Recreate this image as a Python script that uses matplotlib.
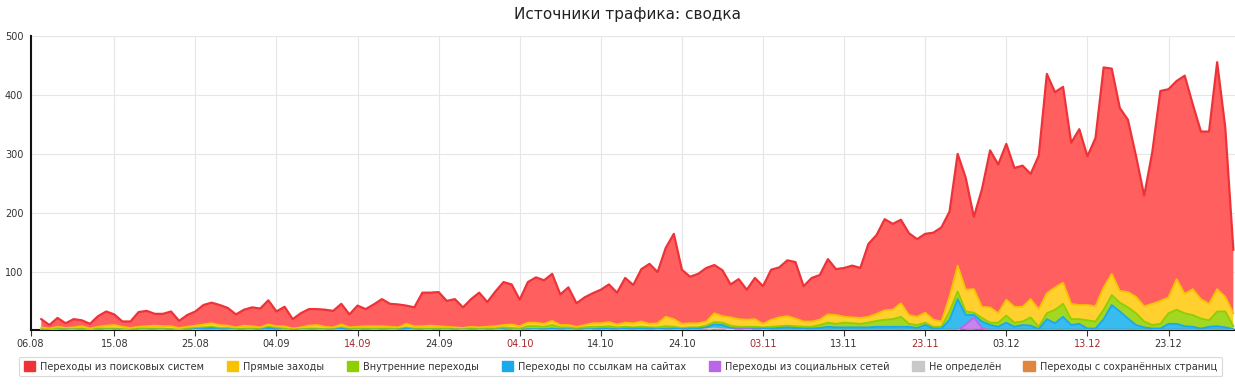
import matplotlib
matplotlib.use('Agg')
import matplotlib.pyplot as plt
from matplotlib.patches import Patch
import numpy as np
import pandas as pd

START = "2014-08-06"

# суточные значения по источникам (06.08 .. 31.12)
search = [14, 6, 15, 8, 14, 10, 8, 18, 24, 18,
          9, 11, 25, 26, 20, 21, 25, 12, 20, 24,
          33, 35, 34, 30, 22, 27, 32, 32, 41, 25,
          33, 16, 24, 28, 27, 29, 28, 35, 22, 36,
          29, 37, 46, 39, 39, 31, 32, 57, 56, 58,
          44, 48, 35, 47, 59, 42, 59, 73, 68, 45,
          69, 77, 74, 80, 52, 64, 40, 47, 51, 57,
          64, 54, 76, 65, 89, 102, 87, 117, 145, 92,
          79, 84, 91, 82, 78, 56, 68, 51, 70, 64,
          85, 85, 95, 96, 60, 74, 76, 94, 78, 83,
          88, 85, 124, 134, 155, 146, 142, 139, 132, 134,
          148, 160, 145, 190, 190, 123, 200, 267, 253, 265,
          236, 240, 213, 261, 373, 332, 333, 274, 299, 253,
          286, 374, 349, 311, 293, 239, 188, 258, 357, 354,
          337, 371, 314, 285, 293, 386, 288, 108]
direct = [3, 2, 3, 2, 3, 4, 2, 3, 5, 6,
          4, 3, 3, 4, 5, 4, 5, 3, 3, 4,
          5, 6, 5, 4, 3, 5, 4, 3, 4, 3,
          4, 2, 3, 5, 6, 4, 3, 5, 3, 3,
          4, 4, 4, 3, 3, 6, 4, 4, 5, 4,
          3, 3, 2, 3, 3, 3, 4, 4, 6, 4,
          6, 6, 5, 7, 4, 4, 3, 4, 6, 6,
          7, 5, 7, 7, 9, 6, 7, 16, 13, 7,
          7, 7, 7, 15, 11, 14, 13, 12, 13, 6,
          12, 15, 16, 13, 9, 9, 9, 14, 15, 10,
          10, 10, 10, 12, 16, 16, 23, 15, 14, 17,
          12, 9, 25, 44, 37, 40, 19, 26, 16, 27,
          27, 25, 31, 30, 34, 38, 36, 26, 24, 26,
          26, 38, 36, 20, 26, 28, 26, 36, 39, 27,
          52, 33, 44, 33, 28, 38, 25, 22]
internal = [1, 1, 2, 1, 1, 2, 1, 2, 2, 2,
            1, 1, 2, 2, 2, 2, 1, 1, 2, 2,
            2, 2, 2, 2, 1, 2, 2, 1, 2, 2,
            2, 1, 1, 2, 2, 1, 1, 2, 1, 2,
            2, 2, 2, 2, 1, 2, 2, 2, 2, 2,
            2, 1, 1, 2, 1, 2, 2, 3, 3, 2,
            5, 5, 4, 6, 3, 3, 2, 3, 4, 3,
            4, 3, 3, 2, 3, 2, 3, 4, 3, 2,
            2, 2, 3, 4, 4, 4, 3, 3, 3, 2,
            3, 3, 3, 3, 3, 3, 5, 7, 6, 8,
            7, 6, 8, 10, 12, 13, 17, 5, 5, 4,
            3, 3, 14, 13, 6, 4, 6, 4, 7, 12,
            7, 6, 14, 4, 10, 23, 22, 10, 8, 14,
            12, 16, 17, 15, 19, 20, 10, 6, 8, 18,
            24, 22, 20, 17, 11, 25, 27, 5]
links = [1, 0, 1, 1, 1, 1, 0, 1, 1, 1,
         1, 0, 1, 1, 1, 1, 1, 0, 1, 2,
         3, 4, 2, 2, 1, 1, 1, 1, 4, 2,
         1, 0, 1, 1, 1, 1, 1, 3, 1, 1,
         1, 1, 1, 1, 1, 3, 1, 1, 1, 1,
         1, 1, 1, 1, 1, 1, 1, 2, 1, 1,
         2, 2, 2, 3, 2, 2, 1, 2, 2, 3,
         3, 2, 3, 3, 3, 3, 2, 3, 3, 2,
         3, 3, 3, 7, 7, 3, 1, 1, 2, 2,
         3, 4, 5, 4, 3, 3, 4, 6, 5, 5,
         5, 5, 5, 6, 6, 6, 6, 6, 4, 9,
         3, 3, 18, 53, 16, 4, 11, 9, 6, 13,
         6, 9, 8, 2, 19, 12, 23, 9, 11, 3,
         3, 19, 43, 32, 20, 9, 5, 3, 3, 11,
         11, 7, 6, 3, 6, 7, 5, 2]
social = [0, 0, 0, 0, 0, 0, 0, 0, 0, 0,
          0, 0, 0, 0, 0, 0, 0, 0, 0, 0,
          0, 0, 0, 0, 0, 0, 0, 0, 0, 0,
          0, 0, 0, 0, 0, 0, 0, 0, 0, 0,
          0, 0, 0, 0, 0, 0, 0, 0, 0, 0,
          0, 0, 0, 0, 0, 0, 0, 0, 0, 0,
          0, 0, 0, 0, 0, 0, 0, 0, 0, 0,
          0, 0, 0, 0, 0, 0, 0, 0, 0, 0,
          0, 0, 0, 0, 0, 0, 2, 2, 1, 1,
          0, 0, 0, 0, 0, 0, 0, 0, 0, 0,
          0, 0, 0, 0, 0, 0, 0, 0, 0, 0,
          0, 0, 0, 0, 10, 22, 4, 0, 0, 0,
          0, 0, 0, 0, 0, 0, 0, 0, 0, 0,
          0, 0, 0, 0, 0, 0, 0, 0, 0, 0,
          0, 0, 0, 0, 0, 0, 0, 0]
undefined = [0, 0, 0, 0, 0, 0, 0, 0, 0, 0,
             0, 0, 0, 0, 0, 0, 0, 0, 0, 0,
             0, 0, 0, 0, 0, 0, 0, 0, 0, 0,
             0, 0, 0, 0, 0, 0, 0, 0, 0, 0,
             0, 0, 0, 0, 0, 0, 0, 0, 0, 0,
             0, 0, 0, 0, 0, 0, 0, 0, 0, 0,
             0, 0, 0, 0, 0, 0, 0, 0, 0, 0,
             0, 0, 0, 0, 0, 0, 0, 0, 0, 0,
             0, 0, 2, 3, 2, 1, 0, 0, 0, 0,
             0, 0, 0, 0, 0, 0, 0, 0, 0, 0,
             0, 0, 0, 0, 0, 0, 0, 0, 0, 0,
             0, 0, 0, 0, 0, 0, 0, 0, 0, 0,
             0, 0, 0, 0, 0, 0, 0, 0, 0, 0,
             0, 0, 0, 0, 0, 0, 0, 0, 0, 0,
             0, 0, 0, 0, 0, 0, 0, 0]
saved = [0] * len(search)

names = ['Переходы из поисковых систем', 'Прямые заходы', 'Внутренние переходы',
         'Переходы по ссылкам на сайтах', 'Переходы из социальных сетей',
         'Не определён', 'Переходы с сохранённых страниц']
line_colors = ['#ee3338', '#f7c300', '#8fce00', '#1aa9ea', '#b967e8', '#c8c8c8', '#e0863e']
fill_colors = ['#ff5f5f', '#ffd02e', '#a2d824', '#38bbef', '#c983f0', '#dadada', '#eaa466']

tick_labels = ['06.08', '15.08', '25.08', '04.09', '14.09', '24.09', '04.10', '14.10',
               '24.10', '03.11', '13.11', '23.11', '03.12', '13.12', '23.12']
red_labels = ['14.09', '04.10', '03.11', '23.11', '13.12']

dates = pd.date_range(START, periods=len(search), freq='D')
x = np.arange(len(dates))
x_left = -1.33

tick_pos = [x_left]
for lab in tick_labels[1:]:
    d = pd.Timestamp(f"2014-{lab[3:]}-{lab[:2]}")
    tick_pos.append((d - dates[0]).days)

series = [search, direct, internal, links, social, undefined, saved]

fig = plt.figure(figsize=(12.35, 3.85), dpi=100)
ax = fig.add_axes([30.5 / 1235, 1 - 330.3 / 385, 1 - 30.5 / 1235, (330.3 - 36.3) / 385])

# снизу вверх: последняя серия внизу стопки
bottom_up = series[::-1]
ax.stackplot(x, *bottom_up, colors=fill_colors[::-1], linewidth=0)
tops = np.cumsum(np.array(bottom_up, dtype=float), axis=0)
for i in range(len(tops) - 1, -1, -1):
    lc = line_colors[::-1][i]
    if i == 0:
        ax.plot(x, tops[i], color=lc, lw=1.6, dashes=(4, 4), zorder=4)
    else:
        ax.plot(x, tops[i], color=lc, lw=1.6 if i == len(tops) - 1 else 1.3, zorder=3)

ax.set_xlim(x_left, 147.2)
ax.set_ylim(0, 500)
ax.set_yticks([100, 200, 300, 400, 500])
ax.tick_params(axis='y', length=0, pad=18.4, labelsize=7, labelcolor='#333333')
for t in ax.get_yticklabels():
    t.set_horizontalalignment('left')
ax.set_xticks(tick_pos)
ax.set_xticklabels(tick_labels)
ax.tick_params(axis='x', length=4, width=0.8, color='#333333', labelsize=7, pad=2)
for t in ax.get_xticklabels():
    t.set_color('#a52a2a' if t.get_text() in red_labels else '#333333')

ax.grid(True, color='#e6e6e6', lw=0.8)
ax.set_axisbelow(True)
for s in ['top', 'right']:
    ax.spines[s].set_visible(False)
ax.spines['left'].set_color('#111111')
ax.spines['left'].set_linewidth(1.5)
ax.spines['bottom'].set_color('#111111')
ax.spines['bottom'].set_linewidth(1.5)

fig.text(627 / 1235, 1 - 15 / 385, 'Источники трафика: сводка', ha='center', va='center',
         fontsize=11, color='#222222')

handles = [Patch(facecolor=c, edgecolor=c) for c in line_colors]
leg = fig.legend(handles, names, loc='center', ncol=7, mode='expand',
                 bbox_to_anchor=(14 / 1235, 5 / 385, 1213 / 1235, 27 / 385),
                 fontsize=7, handlelength=1.2, handleheight=1.2, handletextpad=0.5,
                 borderpad=0.5, frameon=True, fancybox=True)
leg.get_frame().set_edgecolor('#d0d0d0')
leg.get_frame().set_linewidth(0.8)
for t in leg.get_texts():
    t.set_color('#333333')

fig.savefig('out.png', dpi=100)
